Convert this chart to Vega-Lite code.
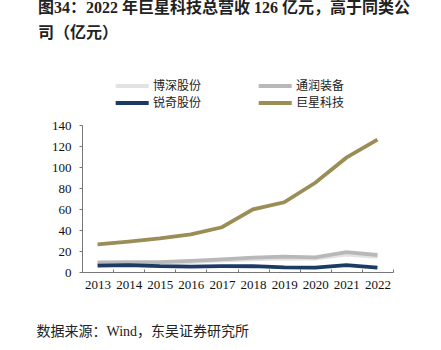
{
  "$schema": "https://vega.github.io/schema/vega-lite/v6.json",
  "width": 311,
  "height": 147,
  "autosize": {"type": "none"},
  "padding": {"left": 82, "top": 125, "right": 48, "bottom": 78},
  "background": "white",
  "title": {
    "text": ["图34：2022 年巨星科技总营收 126 亿元，高于同类公", "司（亿元）"],
    "anchor": "start",
    "frame": "group",
    "dx": -44,
    "offset": 39,
    "font": "Liberation Serif, Noto Sans CJK SC",
    "fontSize": 16,
    "fontWeight": "bold",
    "lineHeight": 25,
    "color": "#222222"
  },
  "config": {
    "view": {"stroke": null},
    "axis": {"labelFont": "Liberation Serif", "labelFontSize": 13, "labelColor": "#111111", "domainColor": "#777777", "tickColor": "#777777", "grid": false}
  },
  "data": {
    "values": [
      {"year": "2013", "company": "博深股份", "value": 8},
      {"year": "2014", "company": "博深股份", "value": 8.2},
      {"year": "2015", "company": "博深股份", "value": 8.5},
      {"year": "2016", "company": "博深股份", "value": 9.5},
      {"year": "2017", "company": "博深股份", "value": 11},
      {"year": "2018", "company": "博深股份", "value": 12},
      {"year": "2019", "company": "博深股份", "value": 13},
      {"year": "2020", "company": "博深股份", "value": 12.8},
      {"year": "2021", "company": "博深股份", "value": 16.5},
      {"year": "2022", "company": "博深股份", "value": 14.5},
      {"year": "2013", "company": "通润装备", "value": 9.2},
      {"year": "2014", "company": "通润装备", "value": 9.5},
      {"year": "2015", "company": "通润装备", "value": 9.5},
      {"year": "2016", "company": "通润装备", "value": 10.5},
      {"year": "2017", "company": "通润装备", "value": 12},
      {"year": "2018", "company": "通润装备", "value": 13.6},
      {"year": "2019", "company": "通润装备", "value": 14.6},
      {"year": "2020", "company": "通润装备", "value": 14},
      {"year": "2021", "company": "通润装备", "value": 19},
      {"year": "2022", "company": "通润装备", "value": 16.2},
      {"year": "2013", "company": "锐奇股份", "value": 6},
      {"year": "2014", "company": "锐奇股份", "value": 6.5},
      {"year": "2015", "company": "锐奇股份", "value": 5.5},
      {"year": "2016", "company": "锐奇股份", "value": 5.2},
      {"year": "2017", "company": "锐奇股份", "value": 5.5},
      {"year": "2018", "company": "锐奇股份", "value": 5.5},
      {"year": "2019", "company": "锐奇股份", "value": 4.5},
      {"year": "2020", "company": "锐奇股份", "value": 4.2},
      {"year": "2021", "company": "锐奇股份", "value": 6.5},
      {"year": "2022", "company": "锐奇股份", "value": 4.2},
      {"year": "2013", "company": "巨星科技", "value": 26.4},
      {"year": "2014", "company": "巨星科技", "value": 28.9},
      {"year": "2015", "company": "巨星科技", "value": 32},
      {"year": "2016", "company": "巨星科技", "value": 35.9},
      {"year": "2017", "company": "巨星科技", "value": 42.6},
      {"year": "2018", "company": "巨星科技", "value": 59.7},
      {"year": "2019", "company": "巨星科技", "value": 66.4},
      {"year": "2020", "company": "巨星科技", "value": 85},
      {"year": "2021", "company": "巨星科技", "value": 108.9},
      {"year": "2022", "company": "巨星科技", "value": 126}
    ]
  },
  "mark": {"type": "line", "strokeWidth": 3.8, "strokeCap": "butt"},
  "encoding": {
    "x": {
      "field": "year",
      "type": "ordinal",
      "scale": {"type": "band", "paddingInner": 0, "paddingOuter": 0},
      "axis": {
        "labelAngle": 0,
        "tickBand": "extent",
        "tickSize": -3,
        "labelPadding": 9,
        "title": "数据来源：Wind，东吴证券研究所",
        "titleFont": "Liberation Serif, Noto Sans CJK SC",
        "titleFontSize": 14,
        "titleFontWeight": "normal",
        "titleColor": "#222222",
        "titleAnchor": "start",
        "titleAlign": "left",
        "titleBaseline": "middle",
        "titleX": -46,
        "titleY": 59
      }
    },
    "y": {
      "field": "value",
      "type": "quantitative",
      "scale": {"domain": [0, 140]},
      "axis": {"values": [0, 20, 40, 60, 80, 100, 120, 140], "tickSize": 3, "labelPadding": 8, "title": null}
    },
    "color": {
      "field": "company",
      "type": "nominal",
      "sort": ["博深股份", "通润装备", "锐奇股份", "巨星科技"],
      "scale": {
        "domain": ["博深股份", "通润装备", "锐奇股份", "巨星科技"],
        "range": ["#e2e2e2", "#b8b8b8", "#1c3a64", "#9a8e56"]
      },
      "legend": {
        "orient": "none",
        "legendX": 31,
        "legendY": -45,
        "direction": "horizontal",
        "columns": 2,
        "columnPadding": 48,
        "rowPadding": 1,
        "title": null,
        "symbolType": "M-1,0H9",
        "symbolSize": 43.56,
        "symbolStrokeWidth": 4,
        "labelFont": "Noto Sans CJK SC",
        "labelFontSize": 12,
        "labelColor": "#222222",
        "labelOffset": 28
      }
    }
  }
}
